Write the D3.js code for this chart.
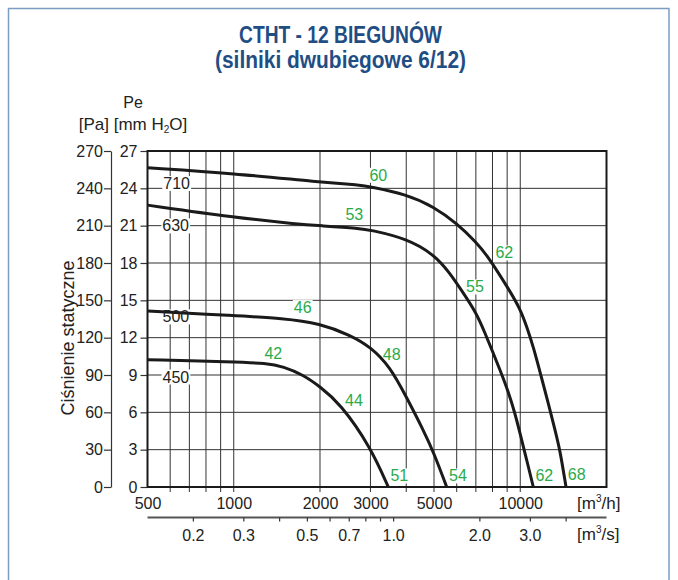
<!DOCTYPE html>
<html><head><meta charset="utf-8">
<script src="https://cdn.jsdelivr.net/npm/d3@7"></script>
<style>body{margin:0;background:#fff} svg{display:block}</style>
</head><body>
<svg id="c" width="678" height="580"></svg>
<script>
// ---------- data ----------
const titleLines = ["CTHT - 12 BIEGUNÓW", "(silniki dwubiegowe 6/12)"];
const yTitle = "Ciśnienie statyczne";
const flowLabels = [500, 1000, 2000, 3000, 5000, 10000];          // m3/h tick labels
const flowGrid = [600, 700, 800, 900, 1000, 2000, 3000, 4000, 5000, 6000, 7000, 8000, 9000, 10000];
const secTicks = [0.2, 0.3, 0.4, 0.5, 0.6, 0.7, 0.8, 0.9, 1.0, 2.0, 3.0, 4.0]; // m3/s
const secLabels = [0.2, 0.3, 0.5, 0.7, 1.0, 2.0, 3.0];
const mmTicks = [0, 3, 6, 9, 12, 15, 18, 21, 24, 27];
const paTicks = [0, 30, 60, 90, 120, 150, 180, 210, 240, 270];

// curves: [flow m3/h, pressure mm H2O]
const curve710 = [[500,25.65],[1000,25.2],[2000,24.5],[2760,24.27],[3000,24.13],[4000,23.52],[5000,22.52],[6000,21.19],[7000,19.71],[7735,18.5],[9156,15.83],[10000,14.3],[10533,12.9],[11106,11.27],[11815,8.94],[12530,6.73],[13222,4.58],[13764,2.97],[14444,0]];
const curve630 = [[500,22.65],[1000,21.67],[1700,21.1],[2000,21.0],[2760,20.79],[3000,20.65],[4000,19.98],[5000,18.7],[5685,17.17],[6165,15.97],[7048,13.96],[7534,12.35],[8015,10.87],[8498,9.40],[9041,7.79],[9586,5.92],[9980,4.32],[10533,2.17],[11106,0]];
const curve500 = [[500,14.14],[1000,13.77],[1489,13.56],[2000,13.15],[2546,12.21],[3000,11.27],[3511,9.67],[4000,7.26],[4589,4.58],[5000,2.71],[5537,0]];
const curve450 = [[500,10.23],[1000,10.05],[1300,9.94],[1489,9.68],[1750,9.0],[2000,8.06],[2349,6.73],[3000,3.24],[3463,0]];
const curves = [curve710, curve630, curve500, curve450];

// fan size labels [flow, mm, text]
const sizeLabels = [[632,24.41,"710"],[627,21.0,"630"],[628,13.69,"500"],[628,8.86,"450"]];
// noise level labels [flow, mm, text]
const noiseLabels = [[1374,10.74,"42"],[2629,6.99,"44"],[1741,14.44,"46"],[3558,10.66,"48"],[3783,0.91,"51"],
  [2635,21.94,"53"],[6064,0.91,"54"],[6952,16.1,"55"],[3196,25.07,"60"],[8797,18.83,"62"],[12136,0.96,"62"],[15745,1.04,"68"]];

// ---------- drawing ----------
const svg = d3.select("#c");
const FONT = "'Liberation Sans Narrow','Arial Narrow','Liberation Sans',Arial,sans-serif";
const FONT2 = "'Liberation Sans',Arial,sans-serif";
const L = 147.5, R = 606.5, T = 151, B = 487;

const x = d3.scaleLog().domain([500, 20000]).range([L, R]);
const xs = d3.scaleLog().domain([500/3600, 20000/3600]).range([L, R]);
const y = d3.scaleLinear().domain([0, 27]).range([B, T]);
const yPa = d3.scaleLinear().domain([0, 270]).range([B, T]);

// outer blue frame
svg.append("rect").attr("x", 8.5).attr("y", 8.5).attr("width", 660.5).attr("height", 600)
  .attr("fill", "none").attr("stroke", "#7b9dc3").attr("stroke-width", 1.5);

// title
titleLines.forEach((t, i) => {
  svg.append("text").attr("x", 340.5).attr("y", i ? 67.5 : 42.5)
    .attr("text-anchor", "middle").attr("font-family", FONT).attr("font-weight", "bold")
    .attr("font-size", 23).attr("fill", "#1f4e85")
    .attr("textLength", i ? 251 : 203).attr("lengthAdjust", "spacingAndGlyphs").text(t);
});

// unit headings
svg.append("text").attr("x", 133).attr("y", 107.7).attr("text-anchor", "middle")
  .attr("font-family", FONT2).attr("font-size", 16).attr("fill", "#222").text("Pe");
const hdr = svg.append("text").attr("x", 133).attr("y", 130).attr("text-anchor", "middle")
  .attr("font-family", FONT2).attr("font-size", 17).attr("fill", "#222");
hdr.append("tspan").text("[Pa] [mm H");
hdr.append("tspan").attr("font-size", 10).attr("dy", 3).text("2");
hdr.append("tspan").attr("dy", -3).text("O]");

// y title
svg.append("text").attr("transform", "translate(73.5,338) rotate(-90)").attr("text-anchor", "middle")
  .attr("font-family", FONT2).attr("font-size", 18).attr("fill", "#222").text(yTitle);

// grid
const g = svg.append("g");
g.selectAll(".vg").data(flowGrid).join("line")
  .attr("x1", d => x(d)).attr("x2", d => x(d)).attr("y1", T).attr("y2", B + 5)
  .attr("stroke", "#333").attr("stroke-width", 1);
g.selectAll(".hg").data(mmTicks.filter(d => d > 0 && d < 27)).join("line")
  .attr("x1", L).attr("x2", R).attr("y1", d => y(d)).attr("y2", d => y(d))
  .attr("stroke", "#333").attr("stroke-width", 1);

// mm axis
const mmAx = svg.append("g").attr("transform", `translate(${L},0)`)
  .call(d3.axisLeft(y).tickValues(mmTicks).tickSize(7).tickPadding(3).tickSizeOuter(0));
mmAx.select(".domain").remove();
// Pa axis
const paAx = svg.append("g").attr("transform", "translate(111,0)")
  .call(d3.axisLeft(yPa).tickValues(paTicks).tickSize(7).tickPadding(1).tickSizeOuter(0));
// m3/h axis
const xAx = svg.append("g").attr("transform", `translate(0,${B})`)
  .call(d3.axisBottom(x).tickValues(flowLabels).tickFormat(d3.format("d")).tickSize(0).tickPadding(11));
xAx.select(".domain").remove();
// m3/s axis
const sAx = svg.append("g").attr("transform", "translate(0,517.5)")
  .call(d3.axisBottom(xs).tickValues(secTicks).tickSize(4).tickPadding(8).tickSizeOuter(0)
    .tickFormat(d => secLabels.some(v => Math.abs(v - d) < 1e-9) ? d3.format(".1f")(d) : ""));
sAx.select(".domain").attr("d", `M${L},0H${R}`);

[mmAx, paAx, xAx, sAx].forEach(a => {
  a.selectAll("text").attr("font-family", FONT).attr("font-size", 16).attr("fill", "#222");
  a.selectAll("line,path").attr("stroke", "#333").attr("stroke-width", 1.2);
});
sAx.select(".domain").attr("stroke", "#555").attr("stroke-width", 1.8);

// unit labels for x axes
function unitLabel(yy, unit) {
  const t = svg.append("text").attr("x", 577).attr("y", yy).attr("font-family", FONT2)
    .attr("font-size", 17).attr("fill", "#222");
  t.append("tspan").text("[m");
  t.append("tspan").attr("font-size", 10).attr("dy", -7).text("3");
  t.append("tspan").attr("dy", 7).text("/" + unit + "]");
}
unitLabel(509, "h");
unitLabel(540, "s");

// plot frame
svg.append("rect").attr("x", L).attr("y", T).attr("width", R - L).attr("height", B - T)
  .attr("fill", "none").attr("stroke", "#1a1a1a").attr("stroke-width", 2);

// label backgrounds (under curves), texts on top
const bgLayer = svg.append("g");
const curveLayer = svg.append("g");
const textLayer = svg.append("g");

const line = d3.line().x(d => x(d[0])).y(d => y(d[1])).curve(d3.curveBasis);
curveLayer.selectAll("path").data(curves).join("path")
  .attr("d", line).attr("fill", "none").attr("stroke", "#1a1a1a").attr("stroke-width", 3)
  .attr("stroke-linejoin", "round");

function labels(data, color) {
  data.forEach(d => {
    const t = textLayer.append("text").attr("x", x(d[0])).attr("y", y(d[1])).attr("dy", "0.36em")
      .attr("text-anchor", "middle").attr("font-family", FONT).attr("font-size", 16)
      .attr("fill", color).text(d[2]);
    const bb = t.node().getBBox();
    bgLayer.append("rect").attr("x", bb.x - 1).attr("y", bb.y + 1)
      .attr("width", bb.width + 2).attr("height", bb.height - 2).attr("fill", "#fff");
  });
}
labels(sizeLabels, "#222");
labels(noiseLabels, "#2aab4a");
</script>
</body></html>
